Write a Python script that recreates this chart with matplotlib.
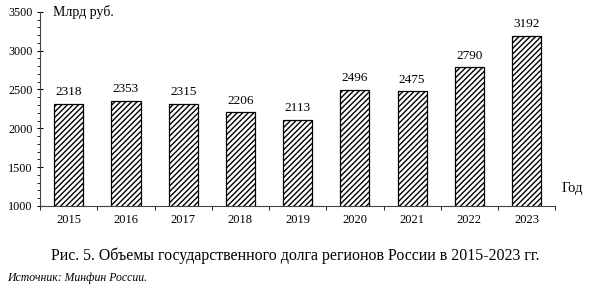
import matplotlib.pyplot as plt
from matplotlib.ticker import MultipleLocator

years = ['2015', '2016', '2017', '2018', '2019', '2020', '2021', '2022', '2023']
debt = [2318, 2353, 2315, 2206, 2113, 2496, 2475, 2790, 3192]

plt.rcParams['font.family'] = ['Liberation Serif', 'DejaVu Serif']
plt.rcParams['hatch.linewidth'] = 1.0

fig = plt.figure(figsize=(5.9, 2.9), dpi=100)
ax = fig.add_axes([0.068, 0.29, 0.873, 0.669])

x = range(len(years))
bars = ax.bar(x, debt, width=0.51, bottom=0, color='white', edgecolor='black',
              hatch='//////', linewidth=0.9)
for xi, v in zip(x, debt):
    ax.text(xi, v + 70, str(v), ha='center', va='bottom', fontsize=9.5)

ax.set_ylim(1000, 3500)
ax.set_xlim(-0.5, len(years) - 0.5)
ax.yaxis.set_major_locator(MultipleLocator(500))
ax.yaxis.set_minor_locator(MultipleLocator(100))
ax.set_xticks([i + 0.5 for i in range(-1, len(years))], minor=True)
ax.set_xticks(list(x))
ax.set_xticklabels(years)
ax.tick_params(axis='x', which='major', length=0, labelsize=9, pad=6)
ax.tick_params(axis='x', which='minor', length=3, direction='out')
ax.tick_params(axis='y', which='major', length=4, direction='inout', labelsize=8.7)
ax.tick_params(axis='y', which='minor', length=2, direction='out')

for s in ['top', 'right']:
    ax.spines[s].set_visible(False)
ax.spines['left'].set_color('#444444')
ax.spines['bottom'].set_color('#444444')

ax.text(0.025, 1.0, 'Млрд руб.', transform=ax.transAxes, fontsize=10, va='center', ha='left')
fig.text(0.952, 0.35, 'Год', fontsize=10.5, ha='left', va='center')

fig.text(0.5, 0.118, 'Рис. 5. Объемы государственного долга регионов России в 2015-2023 гг.',
         fontsize=11.4, ha='center', va='center')
fig.text(0.012, 0.04, 'Источник: Минфин России.', fontsize=8.5, style='italic',
         ha='left', va='center')

fig.savefig('out.png', dpi=100)
